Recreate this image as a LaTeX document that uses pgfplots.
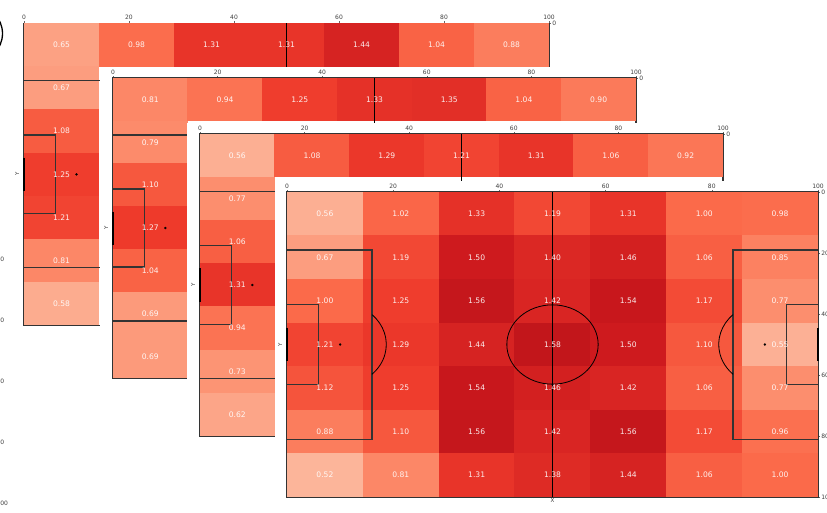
\documentclass[border=0pt]{standalone}
\usepackage{fontspec}
\setmainfont{DejaVu Sans}
\usepackage{pgfplots}
\pgfplotsset{compat=1.18}
\usepackage{pgfplotstable}

\pgfdeclareplotmark{cellA}{\pgfpathrectangle{\pgfpoint{-37.7pt}{-21.75pt}}{\pgfpoint{75.4pt}{43.5pt}}\pgfusepathqfill}
\pgfdeclareplotmark{cellB}{\pgfpathrectangle{\pgfpoint{-38.1pt}{-21.95pt}}{\pgfpoint{76.2pt}{43.9pt}}\pgfusepathqfill}

\pgfplotstableread{
x y v
7.1429 7.1429 0.65
21.4286 7.1429 0.98
35.7143 7.1429 1.31
50 7.1429 1.31
64.2857 7.1429 1.44
78.5714 7.1429 1.04
92.8571 7.1429 0.88
7.1429 21.4286 0.67
7.1429 35.7143 1.08
7.1429 50 1.25
7.1429 64.2857 1.21
7.1429 78.5714 0.81
7.1429 92.8571 0.58
}\pA
\pgfplotstableread{
x y v
7.1429 7.1429 0.81
21.4286 7.1429 0.94
35.7143 7.1429 1.25
50 7.1429 1.33
64.2857 7.1429 1.35
78.5714 7.1429 1.04
92.8571 7.1429 0.90
7.1429 21.4286 0.79
7.1429 35.7143 1.10
7.1429 50 1.27
7.1429 64.2857 1.04
7.1429 78.5714 0.69
7.1429 92.8571 0.69
}\pB
\pgfplotstableread{
x y v
7.1429 7.1429 0.56
21.4286 7.1429 1.08
35.7143 7.1429 1.29
50 7.1429 1.21
64.2857 7.1429 1.31
78.5714 7.1429 1.06
92.8571 7.1429 0.92
7.1429 21.4286 0.77
7.1429 35.7143 1.06
7.1429 50 1.31
7.1429 64.2857 0.94
7.1429 78.5714 0.73
7.1429 92.8571 0.62
}\pC
\pgfplotstableread{
x y v
7.1429 7.1429 0.56
21.4286 7.1429 1.02
35.7143 7.1429 1.33
50 7.1429 1.19
64.2857 7.1429 1.31
78.5714 7.1429 1.00
92.8571 7.1429 0.98
7.1429 21.4286 0.67
21.4286 21.4286 1.19
35.7143 21.4286 1.50
50 21.4286 1.40
64.2857 21.4286 1.46
78.5714 21.4286 1.06
92.8571 21.4286 0.85
7.1429 35.7143 1.00
21.4286 35.7143 1.25
35.7143 35.7143 1.56
50 35.7143 1.42
64.2857 35.7143 1.54
78.5714 35.7143 1.17
92.8571 35.7143 0.77
7.1429 50 1.21
21.4286 50 1.29
35.7143 50 1.44
50 50 1.58
64.2857 50 1.50
78.5714 50 1.10
92.8571 50 0.55
7.1429 64.2857 1.12
21.4286 64.2857 1.25
35.7143 64.2857 1.54
50 64.2857 1.46
64.2857 64.2857 1.42
78.5714 64.2857 1.06
92.8571 64.2857 0.77
7.1429 78.5714 0.88
21.4286 78.5714 1.10
35.7143 78.5714 1.56
50 78.5714 1.42
64.2857 78.5714 1.56
78.5714 78.5714 1.17
92.8571 78.5714 0.96
7.1429 92.8571 0.52
21.4286 92.8571 0.81
35.7143 92.8571 1.31
50 92.8571 1.38
64.2857 92.8571 1.44
78.5714 92.8571 1.06
92.8571 92.8571 1.00
}\pD

\pgfplotsset{
 colormap={reds}{rgb255=(255,245,240) rgb255=(254,224,210) rgb255=(252,187,161) rgb255=(252,146,114) rgb255=(251,106,74) rgb255=(239,59,44) rgb255=(203,24,29) rgb255=(165,15,21) rgb255=(103,0,13)},
 pitch/.style={
  scale only axis, anchor=north west,
  xmin=0,xmax=100,ymin=0,ymax=100, y dir=reverse,
  clip=false, clip marker paths=true,
  colormap name=reds, point meta min=-0.035, point meta max=2.035,
  axis line style={black!80, line width=1.3pt},
  xtick={0,20,...,100}, ytick={0,20,...,100},
  xtick pos=right, ytick pos=right, xticklabel pos=right, yticklabel pos=right,
  tick align=outside, major tick length=2pt,
  tick style={black!60, line width=0.4pt},
  ticklabel style={font=\fontsize{6}{6}\selectfont, text=black!75, inner sep=1.2pt},
  /pgf/number format/assume math mode=true,
  xlabel={X}, ylabel={Y},
  label style={font=\fontsize{5.5}{6}\selectfont, text=black!75},
  xlabel style={at={(axis description cs:0.5,0)}, anchor=north, inner sep=1.5pt},
  ylabel style={at={(axis description cs:-0.006,0.5)}, anchor=south, inner sep=1.5pt},
 },
 mycells/.style={scatter, only marks, mark=#1, point meta=\thisrow{v},
   scatter/use mapped color={fill=mapped color, draw=mapped color}},
 myvals/.style={only marks, mark=none, point meta=\thisrow{v},
   nodes near coords={\pgfmathprintnumber[fixed,fixed zerofill,precision=2]{\pgfplotspointmeta}},
   every node near coord/.append style={font=\fontsize{7.6}{8}\selectfont, text=white, text opacity=0.9},
   nodes near coords align=center},
 pl/.style={point meta=none, mark=none, black!80, line width=1.1pt},
}

\newcommand\pitchlines{%
 \addplot[pl] coordinates {(0,19) (16,19) (16,81) (0,81)};
 \addplot[pl] coordinates {(0,37) (6,37) (6,63) (0,63)};
 \addplot[pl] coordinates {(100,19) (84,19) (84,81) (100,81)};
 \addplot[pl] coordinates {(100,37) (94,37) (94,63) (100,63)};
 \addplot[pl, black, line width=0.8pt] coordinates {(50,0) (50,100)};
 \addplot[pl, black, line width=2pt] coordinates {(0,44.5) (0,55.5)};
 \addplot[pl, black, line width=2pt] coordinates {(100,44.5) (100,55.5)};
 \addplot[point meta=none, only marks, mark=*, mark size=1pt, black] coordinates {(10,50) (90,50)};
 \draw[black, line width=0.8pt] (axis cs:50,50) ellipse [x radius=8.6, y radius=13];
 \draw[black, line width=0.8pt] (axis cs:16,40.2) arc[start angle=-46.4, end angle=46.4, x radius=8.7, y radius=13.5];
 \draw[black, line width=0.8pt] (axis cs:84,40.2) arc[start angle=226.4, end angle=133.6, x radius=8.7, y radius=13.5];
}

\begin{document}
\begin{tikzpicture}
\useasboundingbox (0pt,0pt) rectangle (827pt,-512pt);
\clip (0pt,0pt) rectangle (827pt,-512pt);
\draw[black, line width=1.3pt] (-25.5pt,-33.5pt) circle [radius=28pt];
\foreach \yy/\lab in {259/20,320/40,381/60,442/80,503/100}{
  \node[anchor=west, font=\fontsize{6}{6}\selectfont, text=black!75, inner sep=0] at (-3.6pt,-\yy pt) {\lab};
}

\begin{axis}[pitch, at={(24pt,-23.3pt)}, width=525pt, height=302pt]
\addplot[mycells=cellA] table{\pA};
\pitchlines
\addplot[myvals] table{\pA};
\end{axis}

\fill[white] (100pt,-67pt) rectangle (827pt,-512pt);
\begin{axis}[pitch, at={(113pt,-78pt)}, width=523pt, height=300pt]
\addplot[mycells=cellA] table{\pB};
\pitchlines
\addplot[myvals] table{\pB};
\end{axis}

\fill[white] (187pt,-123pt) rectangle (827pt,-512pt);
\begin{axis}[pitch, at={(200pt,-134pt)}, width=523pt, height=302pt]
\addplot[mycells=cellA] table{\pC};
\pitchlines
\addplot[myvals] table{\pC};
\end{axis}

\fill[white] (275pt,-180.5pt) rectangle (827pt,-512pt);
\begin{axis}[pitch, at={(287pt,-192pt)}, width=531pt, height=305pt]
\addplot[mycells=cellB] table{\pD};
\pitchlines
\addplot[myvals] table{\pD};
\end{axis}
\end{tikzpicture}
\end{document}
